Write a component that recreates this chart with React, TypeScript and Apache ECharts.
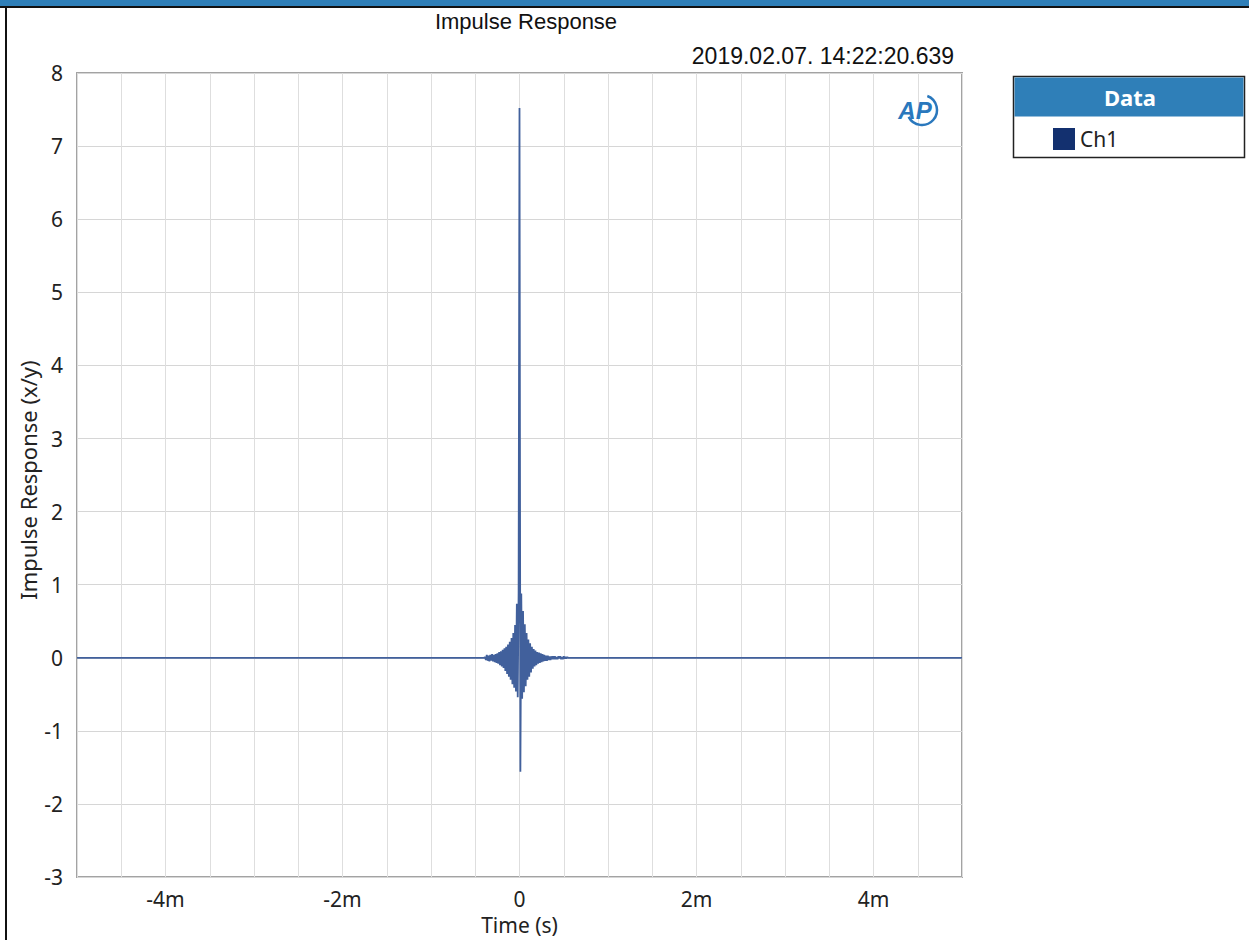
import React, { useEffect, useRef } from "react";
import * as echarts from "echarts";

// Chart texts
const chartTitle = "Impulse Response";
const timestamp = "2019.02.07. 14:22:20.639";
const xAxisName = "Time (s)";
const yAxisName = "Impulse Response (x/y)";
const seriesName = "Ch1";
const legendTitle = "Data";

// Axis ranges (x in milliseconds)
const xMin = -5;
const xMax = 5;
const xGridStep = 0.5;
const xLabelStep = 2;
const yMin = -3;
const yMax = 8;
const yStep = 1;

// Ch1 impulse response samples: [time (ms), value]
const ch1Samples: [number, number][] = [
  [-5, 0],
  [-0.4, 0],
  [-0.39, 0.01],
  [-0.38, -0.03],
  [-0.37, 0.04],
  [-0.36, -0.04],
  [-0.35, 0.03],
  [-0.34, -0.05],
  [-0.33, 0.04],
  [-0.32, -0.04],
  [-0.31, 0.05],
  [-0.3, -0.05],
  [-0.29, 0.04],
  [-0.28, -0.06],
  [-0.27, 0.05],
  [-0.26, -0.07],
  [-0.25, 0.06],
  [-0.24, -0.08],
  [-0.23, 0.08],
  [-0.22, -0.1],
  [-0.21, 0.09],
  [-0.2, -0.12],
  [-0.19, 0.11],
  [-0.18, -0.14],
  [-0.17, 0.13],
  [-0.16, -0.18],
  [-0.15, 0.15],
  [-0.14, -0.22],
  [-0.13, 0.18],
  [-0.12, -0.26],
  [-0.11, 0.22],
  [-0.1, -0.3],
  [-0.09, 0.27],
  [-0.08, -0.36],
  [-0.07, 0.34],
  [-0.06, -0.41],
  [-0.05, 0.45],
  [-0.04, -0.46],
  [-0.03, 0.74],
  [-0.02, -0.54],
  [-0.01, 0.9],
  [0.0, 7.52],
  [0.01, -1.56],
  [0.02, 0.88],
  [0.03, -0.56],
  [0.04, 0.64],
  [0.05, -0.47],
  [0.06, 0.46],
  [0.07, -0.39],
  [0.08, 0.34],
  [0.09, -0.3],
  [0.1, 0.25],
  [0.11, -0.26],
  [0.12, 0.2],
  [0.13, -0.2],
  [0.14, 0.15],
  [0.15, -0.15],
  [0.16, 0.12],
  [0.17, -0.12],
  [0.18, 0.1],
  [0.19, -0.1],
  [0.2, 0.08],
  [0.21, -0.08],
  [0.22, 0.07],
  [0.23, -0.07],
  [0.24, 0.06],
  [0.25, -0.06],
  [0.26, 0.05],
  [0.27, -0.05],
  [0.28, 0.04],
  [0.29, -0.04],
  [0.3, 0.03],
  [0.31, -0.04],
  [0.32, 0.03],
  [0.33, -0.03],
  [0.34, 0.02],
  [0.35, -0.03],
  [0.36, 0.02],
  [0.37, -0.02],
  [0.38, 0.02],
  [0.39, -0.02],
  [0.4, 0.02],
  [0.41, -0.02],
  [0.42, 0.01],
  [0.43, -0.02],
  [0.44, 0.02],
  [0.45, -0.01],
  [0.46, 0.02],
  [0.47, -0.02],
  [0.48, 0.01],
  [0.49, -0.02],
  [0.5, 0.02],
  [0.51, -0.01],
  [0.52, 0.01],
  [0.53, -0.01],
  [0.54, 0.01],
  [0.55, 0],
  [5, 0],
];

const labelFont = "'Noto Sans', 'Open Sans', sans-serif";

export default function App() {
  const ref = useRef<HTMLDivElement>(null);

  useEffect(() => {
    if (!ref.current) return;
    const chart = echarts.init(ref.current, null, { renderer: "svg" });

    const option: any = {
      animation: false,
      backgroundColor: "#ffffff",
      grid: {
        left: 77,
        right: 287,
        top: 73,
        bottom: 62,
        show: true,
        borderColor: "#a3a3a3",
        borderWidth: 2,
        backgroundColor: "transparent",
      },
      title: [
        {
          text: chartTitle,
          left: 521,
          top: 5,
          textAlign: "center",
          textStyle: {
            fontFamily: "'Liberation Sans', Arial, sans-serif",
            fontSize: 22,
            fontWeight: "normal",
            color: "#111",
          },
        },
        {
          text: timestamp,
          right: 1249 - 959,
          top: 39,
          textStyle: {
            fontFamily: "'Liberation Sans', Arial, sans-serif",
            fontSize: 23,
            fontWeight: "normal",
            color: "#111",
          },
        },
      ],
      legend: {
        data: [{ name: seriesName, itemStyle: { color: "#13306f" } }],
        left: 1053,
        top: 128,
        icon: "rect",
        itemWidth: 22,
        itemHeight: 22,
        itemGap: 4,
        padding: [0, 0, 0, 0],
        textStyle: { fontFamily: labelFont, fontSize: 21, color: "#222" },
        selectedMode: false,
      },
      xAxis: {
        type: "value",
        min: xMin,
        max: xMax,
        interval: xGridStep,
        name: xAxisName,
        nameLocation: "middle",
        nameGap: 34,
        nameTextStyle: { fontFamily: labelFont, fontSize: 21, color: "#222" },
        axisLine: { show: false },
        axisTick: { show: false },
        axisLabel: {
          fontFamily: labelFont,
          fontSize: 21,
          color: "#222",
          margin: 11,
          showMinLabel: true,
          showMaxLabel: true,
          formatter: (v: number) => {
            const r = Math.abs(v / xLabelStep - Math.round(v / xLabelStep));
            if (r > 1e-6) return "";
            if (Math.abs(v) < 1e-9) return "0";
            if (Math.abs(v) >= xMax - 1e-9) return "";
            return `${Math.round(v)}m`;
          },
        },
        splitLine: { show: true, lineStyle: { color: "#dedede", width: 1 } },
      },
      yAxis: {
        type: "value",
        min: yMin,
        max: yMax,
        interval: yStep,
        name: yAxisName,
        nameLocation: "middle",
        nameGap: 38,
        nameMoveOverlap: false,
        nameTextStyle: { fontFamily: labelFont, fontSize: 22, color: "#222", padding: [0, 10, 0, 0] },
        axisLine: { show: false },
        axisTick: { show: false },
        axisLabel: { fontFamily: labelFont, fontSize: 21, color: "#222", margin: 14 },
        splitLine: { show: true, lineStyle: { color: "#d6d6d6", width: 1 } },
      },
      series: [
        {
          name: seriesName,
          type: "line",
          data: ch1Samples,
          showSymbol: false,
          symbol: "none",
          lineStyle: { color: "#41609c", width: 1.8 },
          itemStyle: { color: "#13306f" },
          z: 3,
        },
      ],
      graphic: [
        // top window bar
        { type: "rect", shape: { x: 0, y: 0, width: 1249, height: 6 }, style: { fill: "#2f7fb8" } },
        { type: "rect", shape: { x: 0, y: 6, width: 1249, height: 2 }, style: { fill: "#111" } },
        // left window border
        { type: "rect", shape: { x: 5, y: 6, width: 2, height: 934 }, style: { fill: "#111" } },
        // legend box
        {
          type: "rect",
          shape: { x: 1013.5, y: 76.5, width: 231, height: 81 },
          style: { fill: "#ffffff", stroke: "#222", lineWidth: 1.5 },
          z: 0,
        },
        {
          type: "rect",
          shape: { x: 1014.5, y: 77.5, width: 229, height: 39 },
          style: { fill: "#2f7fb8" },
          z: 1,
        },
        {
          type: "text",
          x: 1130,
          y: 97,
          style: {
            text: legendTitle,
            fill: "#ffffff",
            fontFamily: labelFont,
            fontSize: 22,
            fontWeight: "bold",
            textAlign: "center",
            textVerticalAlign: "middle",
          },
          z: 2,
        },
        // AP logo
        {
          type: "text",
          x: 915,
          y: 110,
          style: {
            text: "AP",
            fill: "#2a78bd",
            fontFamily: "'Liberation Sans', Arial, sans-serif",
            fontSize: 24,
            fontWeight: "bold",
            fontStyle: "italic",
            textAlign: "center",
            textVerticalAlign: "middle",
          },
          z: 5,
        },
        {
          type: "arc",
          shape: { cx: 922, cy: 110, r: 15, startAngle: -Math.PI / 2.6, endAngle: Math.PI * 0.85 },
          style: { stroke: "#2a78bd", lineWidth: 2.5, fill: "none" },
          z: 5,
        },
      ],
    };

    chart.setOption(option);
    return () => chart.dispose();
  }, []);

  return (
    <div
      ref={ref}
      style={{ position: "absolute", left: 0, top: 0, width: 1249, height: 940, background: "#fff" }}
    />
  );
}
